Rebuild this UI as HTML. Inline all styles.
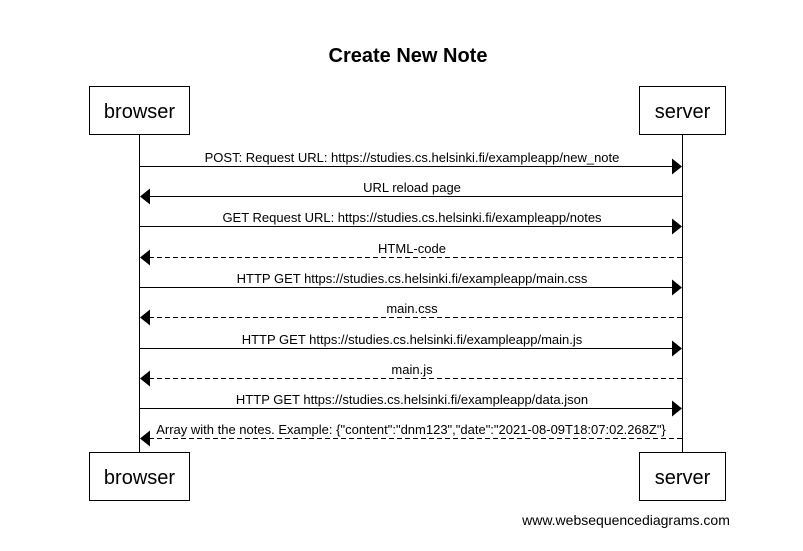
<!DOCTYPE html>
<html><head><meta charset="utf-8"><style>
html,body{margin:0;padding:0;background:#fff;}
svg{display:block;}
text{font-family:"Liberation Sans",Arial,sans-serif;fill:#000;}
</style></head><body>
<svg width="803" height="551" viewBox="0 0 803 551" xmlns="http://www.w3.org/2000/svg">
<rect width="803" height="551" fill="#fff"/>
<text x="408" y="62" font-size="20" font-weight="bold" text-anchor="middle">Create New Note</text>
<line x1="139.5" y1="134" x2="139.5" y2="453" stroke="#000"/>
<line x1="682.5" y1="134" x2="682.5" y2="453" stroke="#000"/>
<g fill="#fff" stroke="#000">
<rect x="89.5" y="86.5" width="100" height="48"/>
<rect x="639.5" y="86.5" width="86" height="48"/>
<rect x="89.5" y="452.5" width="100" height="48"/>
<rect x="639.5" y="452.5" width="86" height="48"/>
</g>
<g font-size="20" text-anchor="middle">
<text x="139.5" y="118">browser</text>
<text x="682.5" y="118">server</text>
<text x="139.5" y="484">browser</text>
<text x="682.5" y="484">server</text>
</g>
<g stroke="#000" stroke-width="1">
<line x1="140" y1="166.5" x2="673" y2="166.5"/>
<line x1="149" y1="196.5" x2="682" y2="196.5"/>
<line x1="140" y1="226.5" x2="673" y2="226.5"/>
<line x1="149" y1="257.5" x2="682" y2="257.5" stroke-dasharray="5,3"/>
<line x1="140" y1="287.5" x2="673" y2="287.5"/>
<line x1="149" y1="317.5" x2="682" y2="317.5" stroke-dasharray="5,3"/>
<line x1="140" y1="348.5" x2="673" y2="348.5"/>
<line x1="149" y1="378.5" x2="682" y2="378.5" stroke-dasharray="5,3"/>
<line x1="140" y1="408.5" x2="673" y2="408.5"/>
<line x1="149" y1="438.5" x2="682" y2="438.5" stroke-dasharray="5,3"/>
</g>
<g fill="#000">
<polygon points="672,158.5 682,166.5 672,174.5"/>
<polygon points="150,188.5 140,196.5 150,204.5"/>
<polygon points="672,218.5 682,226.5 672,234.5"/>
<polygon points="150,249.5 140,257.5 150,265.5"/>
<polygon points="672,279.5 682,287.5 672,295.5"/>
<polygon points="150,309.5 140,317.5 150,325.5"/>
<polygon points="672,340.5 682,348.5 672,356.5"/>
<polygon points="150,370.5 140,378.5 150,386.5"/>
<polygon points="672,400.5 682,408.5 672,416.5"/>
<polygon points="150,430.5 140,438.5 150,446.5"/>
</g>
<g font-size="13" text-anchor="middle">
<text x="412" y="162">POST: Request URL: https://studies.cs.helsinki.fi/exampleapp/new_note</text>
<text x="412" y="192">URL reload page</text>
<text x="412" y="222">GET Request URL: https://studies.cs.helsinki.fi/exampleapp/notes</text>
<text x="412" y="253">HTML-code</text>
<text x="412" y="283">HTTP GET https://studies.cs.helsinki.fi/exampleapp/main.css</text>
<text x="412" y="313">main.css</text>
<text x="412" y="344">HTTP GET https://studies.cs.helsinki.fi/exampleapp/main.js</text>
<text x="412" y="374">main.js</text>
<text x="412" y="404">HTTP GET https://studies.cs.helsinki.fi/exampleapp/data.json</text>
<text x="411" y="434">Array with the notes. Example: {"content":"dnm123","date":"2021-08-09T18:07:02.268Z"}</text>
</g>
<text x="626" y="525" font-size="14" text-anchor="middle">www.websequencediagrams.com</text>
</svg>
</body></html>
